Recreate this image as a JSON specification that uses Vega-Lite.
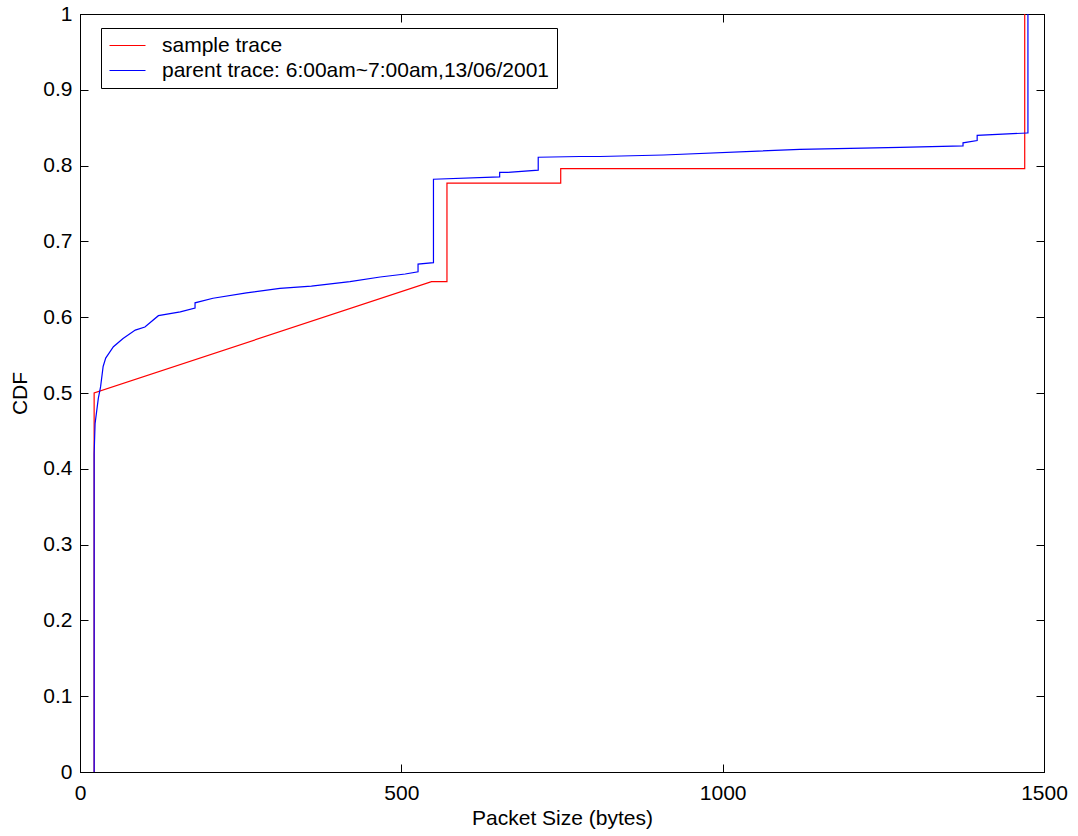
{
  "$schema": "https://vega.github.io/schema/vega-lite/v6.json",
  "width": 964,
  "height": 758,
  "autosize": {"type": "none"},
  "padding": {"left": 80, "top": 14, "right": 34, "bottom": 64},
  "background": "white",
  "config": {
    "view": {"stroke": "black", "strokeWidth": 1},
    "axis": {
      "grid": false,
      "domainColor": "black",
      "domainWidth": 1,
      "tickColor": "black",
      "tickWidth": 1,
      "tickSize": -8,
      "labelPadding": 16,
      "labelFlush": false,
      "labelFont": "Liberation Sans",
      "labelFontSize": 21,
      "labelColor": "black",
      "titleFont": "Liberation Sans",
      "titleFontSize": 21,
      "titleFontWeight": "normal",
      "titleColor": "black"
    },
    "legend": {
      "orient": "none",
      "legendX": 21,
      "legendY": 14,
      "strokeColor": "black",
      "fillColor": "white",
      "padding": 7,
      "labelFont": "Liberation Sans",
      "labelFontSize": 21,
      "labelColor": "black",
      "labelLimit": 0,
      "labelOffset": 33,
      "symbolType": "M-1,0H3",
      "symbolSize": 324,
      "symbolStrokeWidth": 1.2,
      "rowPadding": 3
    }
  },
  "data": {
    "values": [
      {"series": "sample trace", "i": 0, "size": 22, "cdf": 0},
      {"series": "sample trace", "i": 1, "size": 22, "cdf": 0.5},
      {"series": "sample trace", "i": 2, "size": 547, "cdf": 0.647},
      {"series": "sample trace", "i": 3, "size": 571, "cdf": 0.647},
      {"series": "sample trace", "i": 4, "size": 571, "cdf": 0.777},
      {"series": "sample trace", "i": 5, "size": 748, "cdf": 0.777},
      {"series": "sample trace", "i": 6, "size": 748, "cdf": 0.796},
      {"series": "sample trace", "i": 7, "size": 1470, "cdf": 0.796},
      {"series": "sample trace", "i": 8, "size": 1470, "cdf": 1.0},
      {"series": "parent trace: 6:00am~7:00am,13/06/2001", "i": 0, "size": 22, "cdf": 0},
      {"series": "parent trace: 6:00am~7:00am,13/06/2001", "i": 1, "size": 22, "cdf": 0.42},
      {"series": "parent trace: 6:00am~7:00am,13/06/2001", "i": 2, "size": 23.5, "cdf": 0.46},
      {"series": "parent trace: 6:00am~7:00am,13/06/2001", "i": 3, "size": 28.5, "cdf": 0.493},
      {"series": "parent trace: 6:00am~7:00am,13/06/2001", "i": 4, "size": 32, "cdf": 0.508},
      {"series": "parent trace: 6:00am~7:00am,13/06/2001", "i": 5, "size": 36, "cdf": 0.535},
      {"series": "parent trace: 6:00am~7:00am,13/06/2001", "i": 6, "size": 40, "cdf": 0.546},
      {"series": "parent trace: 6:00am~7:00am,13/06/2001", "i": 7, "size": 52, "cdf": 0.561},
      {"series": "parent trace: 6:00am~7:00am,13/06/2001", "i": 8, "size": 67, "cdf": 0.572},
      {"series": "parent trace: 6:00am~7:00am,13/06/2001", "i": 9, "size": 86, "cdf": 0.583},
      {"series": "parent trace: 6:00am~7:00am,13/06/2001", "i": 10, "size": 101, "cdf": 0.587},
      {"series": "parent trace: 6:00am~7:00am,13/06/2001", "i": 11, "size": 122, "cdf": 0.602},
      {"series": "parent trace: 6:00am~7:00am,13/06/2001", "i": 12, "size": 156, "cdf": 0.607},
      {"series": "parent trace: 6:00am~7:00am,13/06/2001", "i": 13, "size": 179, "cdf": 0.612},
      {"series": "parent trace: 6:00am~7:00am,13/06/2001", "i": 14, "size": 179, "cdf": 0.619},
      {"series": "parent trace: 6:00am~7:00am,13/06/2001", "i": 15, "size": 207, "cdf": 0.625},
      {"series": "parent trace: 6:00am~7:00am,13/06/2001", "i": 16, "size": 259, "cdf": 0.632},
      {"series": "parent trace: 6:00am~7:00am,13/06/2001", "i": 17, "size": 311, "cdf": 0.638},
      {"series": "parent trace: 6:00am~7:00am,13/06/2001", "i": 18, "size": 360, "cdf": 0.641},
      {"series": "parent trace: 6:00am~7:00am,13/06/2001", "i": 19, "size": 420, "cdf": 0.647},
      {"series": "parent trace: 6:00am~7:00am,13/06/2001", "i": 20, "size": 467, "cdf": 0.653},
      {"series": "parent trace: 6:00am~7:00am,13/06/2001", "i": 21, "size": 506, "cdf": 0.657},
      {"series": "parent trace: 6:00am~7:00am,13/06/2001", "i": 22, "size": 526, "cdf": 0.66},
      {"series": "parent trace: 6:00am~7:00am,13/06/2001", "i": 23, "size": 526, "cdf": 0.67},
      {"series": "parent trace: 6:00am~7:00am,13/06/2001", "i": 24, "size": 550, "cdf": 0.672},
      {"series": "parent trace: 6:00am~7:00am,13/06/2001", "i": 25, "size": 550, "cdf": 0.782},
      {"series": "parent trace: 6:00am~7:00am,13/06/2001", "i": 26, "size": 653, "cdf": 0.785},
      {"series": "parent trace: 6:00am~7:00am,13/06/2001", "i": 27, "size": 653, "cdf": 0.791},
      {"series": "parent trace: 6:00am~7:00am,13/06/2001", "i": 28, "size": 666, "cdf": 0.791},
      {"series": "parent trace: 6:00am~7:00am,13/06/2001", "i": 29, "size": 713, "cdf": 0.794},
      {"series": "parent trace: 6:00am~7:00am,13/06/2001", "i": 30, "size": 713, "cdf": 0.811},
      {"series": "parent trace: 6:00am~7:00am,13/06/2001", "i": 31, "size": 778, "cdf": 0.812},
      {"series": "parent trace: 6:00am~7:00am,13/06/2001", "i": 32, "size": 809, "cdf": 0.812},
      {"series": "parent trace: 6:00am~7:00am,13/06/2001", "i": 33, "size": 908, "cdf": 0.814},
      {"series": "parent trace: 6:00am~7:00am,13/06/2001", "i": 34, "size": 1120, "cdf": 0.8215},
      {"series": "parent trace: 6:00am~7:00am,13/06/2001", "i": 35, "size": 1276, "cdf": 0.824},
      {"series": "parent trace: 6:00am~7:00am,13/06/2001", "i": 36, "size": 1374, "cdf": 0.826},
      {"series": "parent trace: 6:00am~7:00am,13/06/2001", "i": 37, "size": 1374, "cdf": 0.83},
      {"series": "parent trace: 6:00am~7:00am,13/06/2001", "i": 38, "size": 1396, "cdf": 0.833},
      {"series": "parent trace: 6:00am~7:00am,13/06/2001", "i": 39, "size": 1396, "cdf": 0.84},
      {"series": "parent trace: 6:00am~7:00am,13/06/2001", "i": 40, "size": 1474, "cdf": 0.843},
      {"series": "parent trace: 6:00am~7:00am,13/06/2001", "i": 41, "size": 1475, "cdf": 0.843},
      {"series": "parent trace: 6:00am~7:00am,13/06/2001", "i": 42, "size": 1475, "cdf": 1.0}
    ]
  },
  "layer": [
    {
      "transform": [{"filter": "datum.series == 'sample trace'"}],
      "mark": {"type": "line", "strokeWidth": 1.2},
      "encoding": {
        "x": {
          "field": "size", "type": "quantitative",
          "scale": {"domain": [0, 1500], "nice": false, "zero": false},
          "axis": {"values": [0, 500, 1000, 1500], "format": "d", "labelPadding": 18, "title": "Packet Size (bytes)", "titlePadding": 4}
        },
        "y": {
          "field": "cdf", "type": "quantitative",
          "scale": {"domain": [0, 1], "nice": false},
          "axis": {"values": [0, 0.1, 0.2, 0.3, 0.4, 0.5, 0.6, 0.7, 0.8, 0.9, 1], "format": "~g", "title": "CDF", "titlePadding": 12}
        },
        "color": {
          "field": "series", "type": "nominal",
          "scale": {"domain": ["sample trace", "parent trace: 6:00am~7:00am,13/06/2001"], "range": ["#ff0000", "#0000ff"]},
          "legend": {"title": null}
        },
        "order": {"field": "i", "type": "quantitative"}
      }
    },
    {
      "transform": [{"filter": "datum.series != 'sample trace'"}],
      "mark": {"type": "line", "strokeWidth": 1.2},
      "encoding": {
        "x": {
          "field": "size", "type": "quantitative",
          "axis": {"orient": "top", "values": [0, 500, 1000, 1500], "labels": false, "title": null}
        },
        "y": {
          "field": "cdf", "type": "quantitative",
          "axis": {"orient": "right", "values": [0, 0.1, 0.2, 0.3, 0.4, 0.5, 0.6, 0.7, 0.8, 0.9, 1], "labels": false, "title": null}
        },
        "color": {"field": "series", "type": "nominal"},
        "order": {"field": "i", "type": "quantitative"}
      }
    }
  ],
  "resolve": {"axis": {"x": "independent", "y": "independent"}}
}
